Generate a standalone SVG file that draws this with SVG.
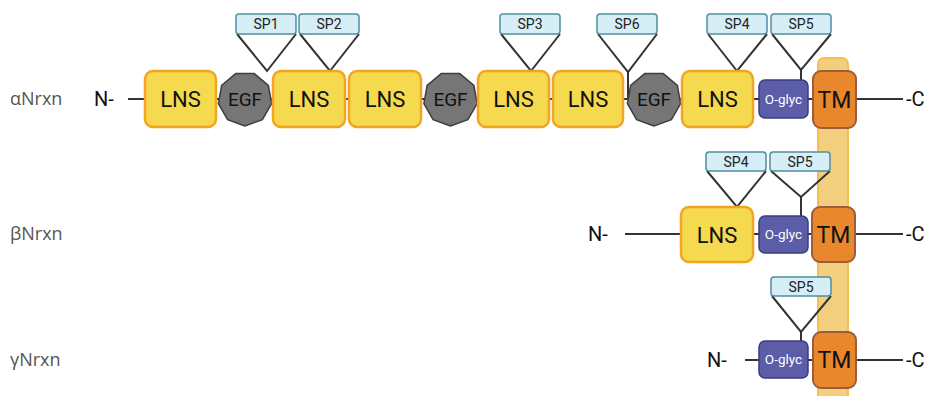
<svg xmlns="http://www.w3.org/2000/svg" width="929" height="396" viewBox="0 0 929 396">
<defs>
<style>
.lns{fill:#F5D94E;stroke:#F3A521;stroke-width:2.5}
.egf{fill:#767676;stroke:#3f3f3f;stroke-width:1.5}
.sp{fill:#D6EEF5;stroke:#4F8FA0;stroke-width:1.5}
.og{fill:#5C5DA8;stroke:#3B3C7A;stroke-width:1.5}
.tm{fill:#E8872B;stroke:#9B5D3F;stroke-width:2}
.band{fill:#F1CF7F;stroke:#F6BE4F;stroke-width:2}
.ln{stroke:#333;stroke-width:2;fill:none}
.t{font-family:Roboto,"Liberation Sans",sans-serif;text-anchor:middle;fill:#111}
.tl{font-size:22px}
.te{font-size:19px}
.ts{font-size:14px;fill:#222}
.to{font-size:13.5px;fill:#fff}
.tt{font-size:23px}
.term{font-family:Roboto,"Liberation Sans",sans-serif;font-size:20px;fill:#111}
.row{font-family:"Open Sans","Liberation Sans",sans-serif;font-size:18px;fill:#555}
</style>
<polygon id="nona" points="0,27 -17.4,20.7 -26.6,4.7 -23.4,-13.5 -9.2,-25.4 9.2,-25.4 23.4,-13.5 26.6,4.7 17.4,20.7"/>
</defs>
<rect width="929" height="396" fill="#fff"/>

<rect id="membrane" class="band" x="818" y="58" width="30" height="350" rx="6"/>

<g id="labels">
<text class="row" x="10" y="105">αNrxn</text>
<text class="row" x="10" y="240">βNrxn</text>
<text class="row" x="10" y="366">γNrxn</text>
<text class="term" x="94" y="106">N-</text>
<text class="term" x="906" y="106">-C</text>
<text class="term" x="588" y="241">N-</text>
<text class="term" x="906" y="241">-C</text>
<text class="term" x="707" y="367">N-</text>
<text class="term" x="906" y="367">-C</text>
</g>

<g id="connectors">
<line class="ln" x1="128" y1="99" x2="903" y2="99"/>
<line class="ln" x1="625" y1="234" x2="903" y2="234"/>
<line class="ln" x1="745" y1="360" x2="903" y2="360"/>
<polyline class="ln" points="237,34 267,71 296,34"/>
<polyline class="ln" points="300,34 330,71 359,34"/>
<polyline class="ln" points="501,34 531,71 560,34"/>
<polyline class="ln" points="598,34 628,72 657,34"/>
<line class="ln" x1="628" y1="72" x2="628" y2="99"/>
<polyline class="ln" points="708,34 737,71 767,34"/>
<polyline class="ln" points="772,34 801,70 831,34"/>
<line class="ln" x1="801" y1="70" x2="801" y2="80"/>
<polyline class="ln" points="707,171 737,207 766,171"/>
<polyline class="ln" points="771,171 801,197 830,171"/>
<line class="ln" x1="801" y1="197" x2="801" y2="216"/>
<polyline class="ln" points="772,296 801,332 831,296"/>
<line class="ln" x1="801" y1="332" x2="801" y2="341"/>
</g>

<g id="alpha">
<g id="a-lns1"><rect class="lns" x="145" y="71" width="71" height="56" rx="8"/><text class="t tl" x="180.5" y="107">LNS</text></g>
<g id="a-egf1"><use href="#nona" class="egf" x="245" y="99"/><text class="t te" x="245" y="105.8">EGF</text></g>
<g id="a-lns2"><rect class="lns" x="273" y="71" width="72" height="56" rx="8"/><text class="t tl" x="309" y="107">LNS</text></g>
<g id="a-lns3"><rect class="lns" x="349" y="71" width="72" height="56" rx="8"/><text class="t tl" x="385" y="107">LNS</text></g>
<g id="a-egf2"><use href="#nona" class="egf" x="450.5" y="99"/><text class="t te" x="450.5" y="105.8">EGF</text></g>
<g id="a-lns4"><rect class="lns" x="478" y="71" width="71" height="56" rx="8"/><text class="t tl" x="513.5" y="107">LNS</text></g>
<g id="a-lns5"><rect class="lns" x="553" y="71" width="70" height="56" rx="8"/><text class="t tl" x="588" y="107">LNS</text></g>
<g id="a-egf3"><use href="#nona" class="egf" x="654" y="99"/><text class="t te" x="654" y="105.8">EGF</text></g>
<g id="a-lns6"><rect class="lns" x="682" y="71" width="71" height="56" rx="8"/><text class="t tl" x="717.5" y="107">LNS</text></g>
<g id="a-oglyc"><rect class="og" x="759" y="80" width="49" height="38" rx="6"/><text class="t to" x="783.5" y="103.8">O-glyc</text></g>
<g id="a-tm"><rect class="tm" x="813" y="71" width="43" height="57" rx="8"/><text class="t tt" x="834.5" y="107.8">TM</text></g>
<g id="a-sp1"><rect class="sp" x="236" y="14" width="60" height="20" rx="3"/><text class="t ts" x="266" y="29">SP1</text></g>
<g id="a-sp2"><rect class="sp" x="299" y="14" width="60" height="20" rx="3"/><text class="t ts" x="329" y="29">SP2</text></g>
<g id="a-sp3"><rect class="sp" x="500" y="14" width="60" height="20" rx="3"/><text class="t ts" x="530" y="29">SP3</text></g>
<g id="a-sp6"><rect class="sp" x="597" y="14" width="60" height="20" rx="3"/><text class="t ts" x="627" y="29">SP6</text></g>
<g id="a-sp4"><rect class="sp" x="707" y="14" width="60" height="20" rx="3"/><text class="t ts" x="737" y="29">SP4</text></g>
<g id="a-sp5"><rect class="sp" x="771" y="14" width="60" height="20" rx="3"/><text class="t ts" x="801" y="29">SP5</text></g>
</g>

<g id="beta">
<g id="b-lns"><rect class="lns" x="681" y="207" width="72" height="55" rx="8"/><text class="t tl" x="717" y="242.5">LNS</text></g>
<g id="b-oglyc"><rect class="og" x="759" y="216" width="49" height="37" rx="6"/><text class="t to" x="783.5" y="239.3">O-glyc</text></g>
<g id="b-tm"><rect class="tm" x="812" y="207" width="43" height="55" rx="8"/><text class="t tt" x="833.5" y="242.8">TM</text></g>
<g id="b-sp4"><rect class="sp" x="706" y="152" width="60" height="19" rx="3"/><text class="t ts" x="736" y="166.5">SP4</text></g>
<g id="b-sp5"><rect class="sp" x="770" y="152" width="60" height="19" rx="3"/><text class="t ts" x="800" y="166.5">SP5</text></g>
</g>

<g id="gamma">
<g id="g-oglyc"><rect class="og" x="759" y="341" width="49" height="37" rx="6"/><text class="t to" x="783.5" y="364.3">O-glyc</text></g>
<g id="g-tm"><rect class="tm" x="813" y="332" width="43" height="56" rx="8"/><text class="t tt" x="834.5" y="368.2">TM</text></g>
<g id="g-sp5"><rect class="sp" x="771" y="277" width="60" height="19" rx="3"/><text class="t ts" x="801" y="291.5">SP5</text></g>
</g>
</svg>
